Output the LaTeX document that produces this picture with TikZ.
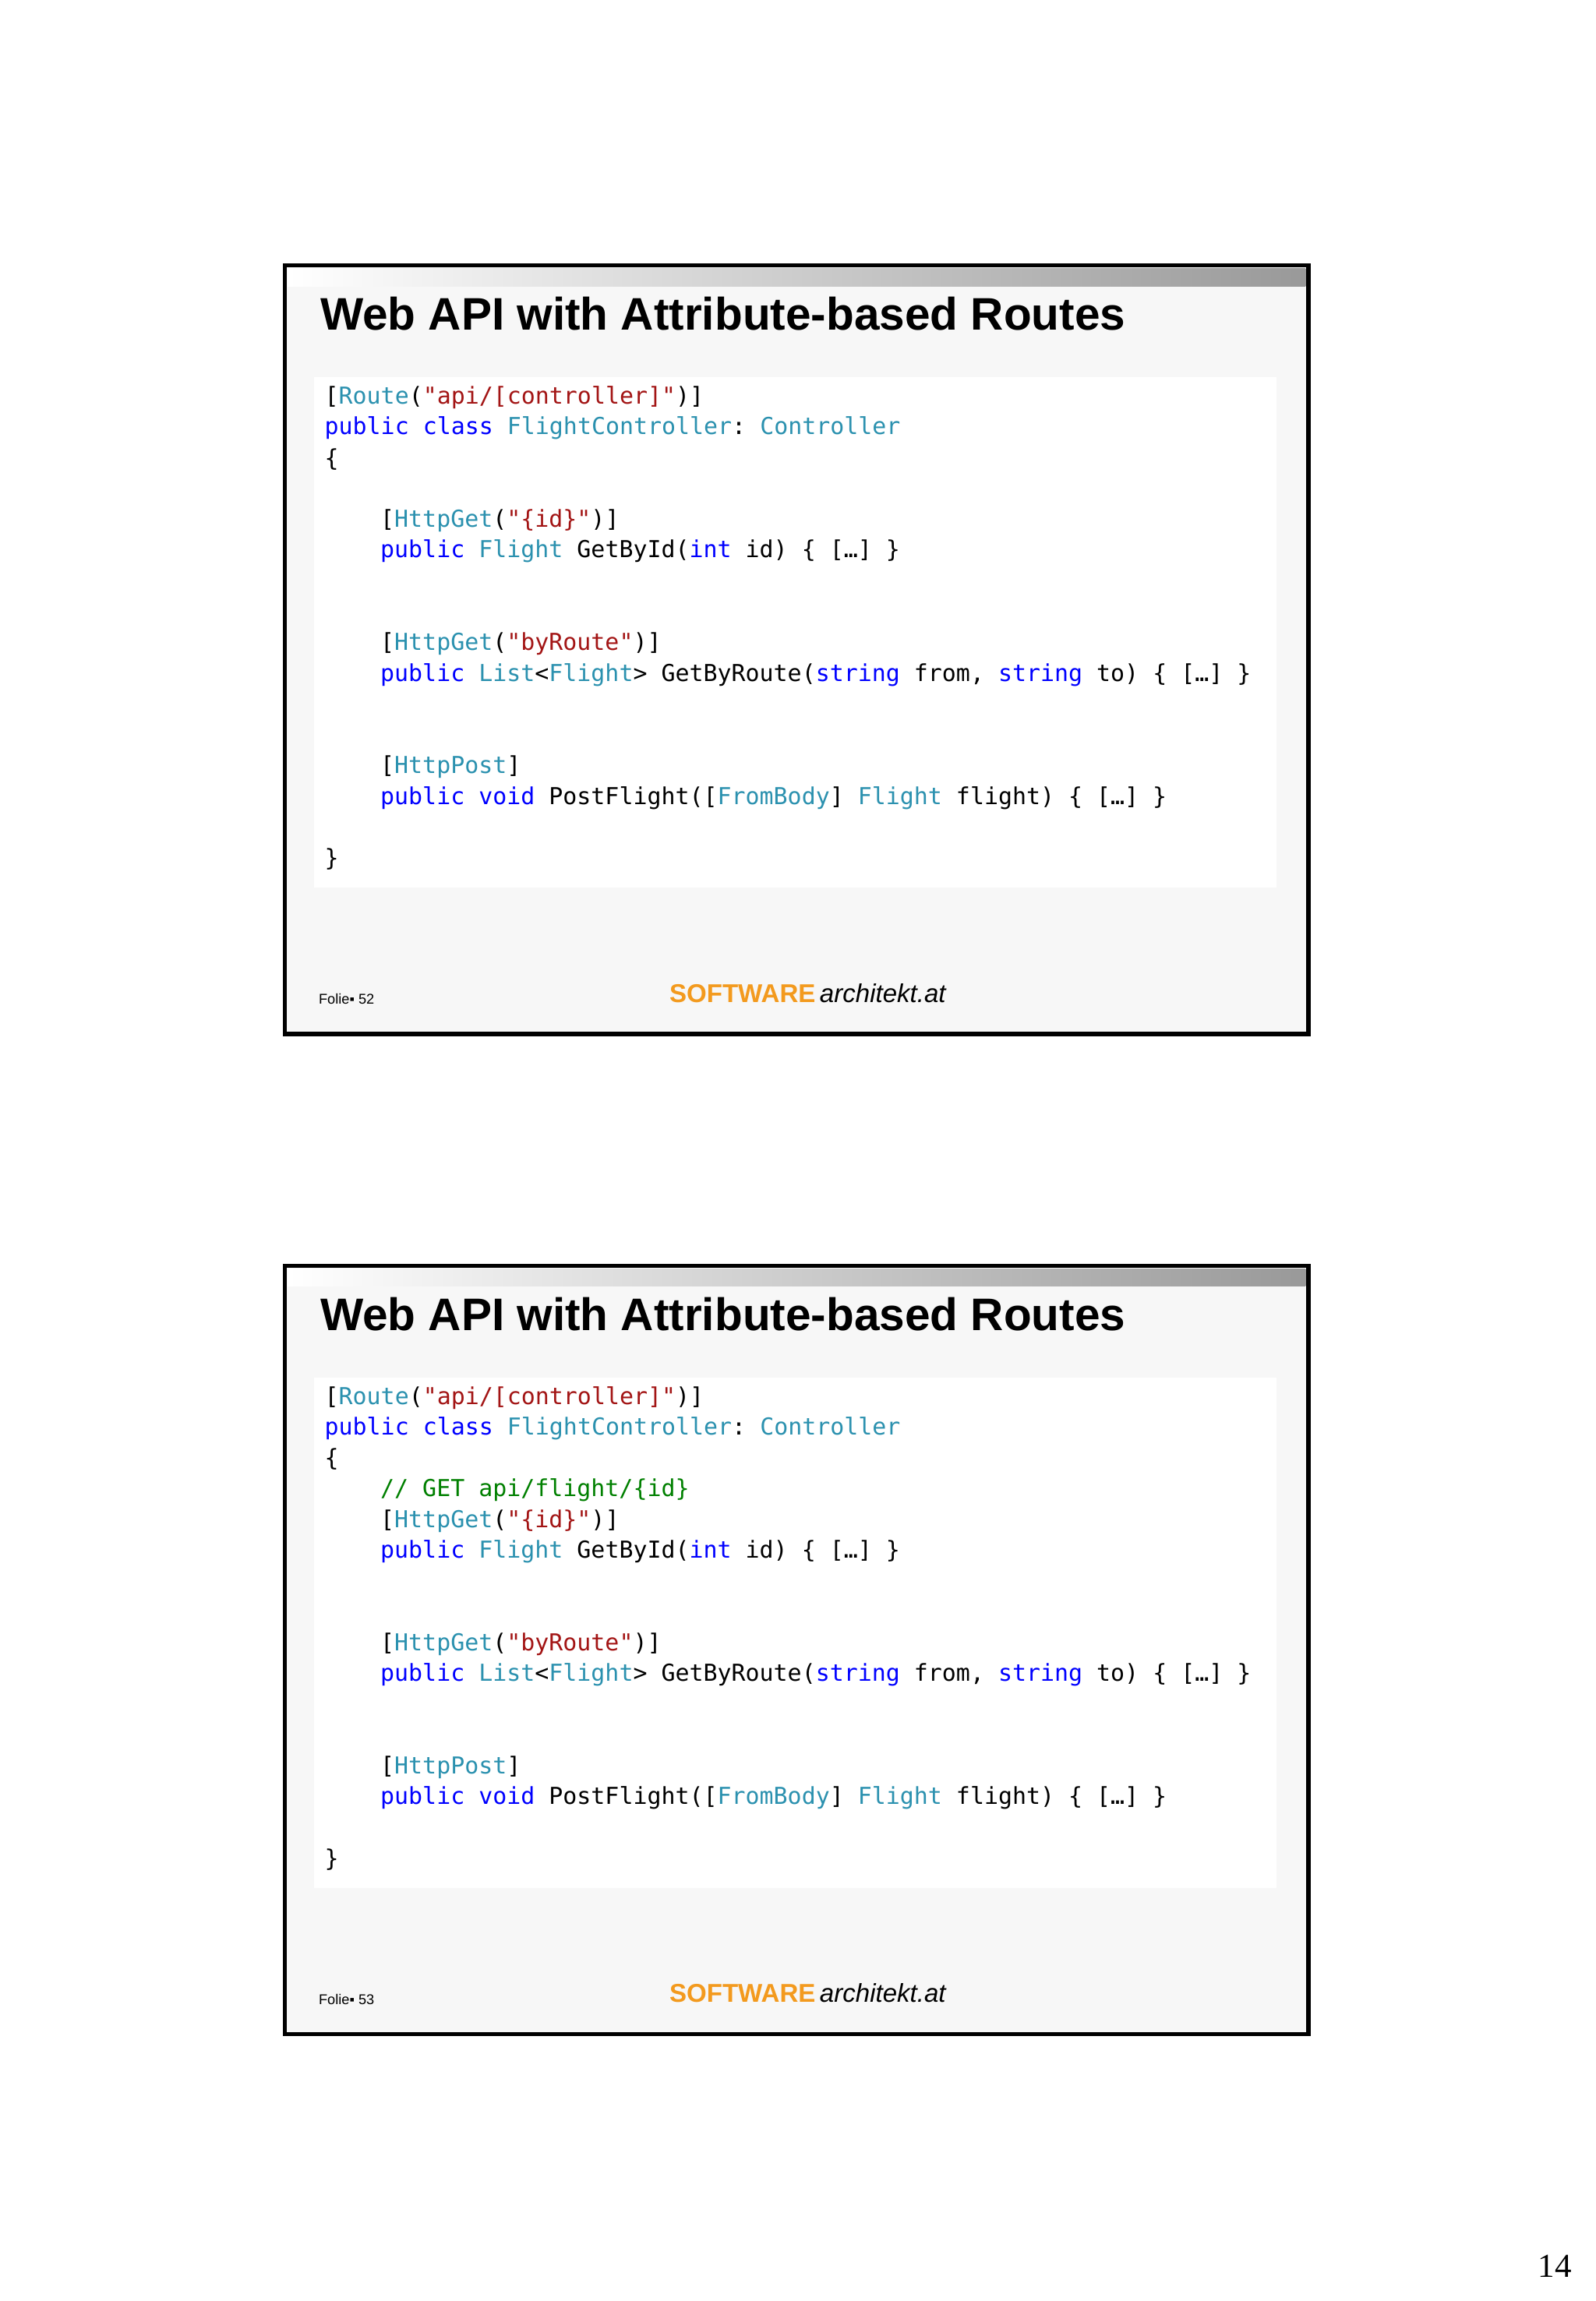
\documentclass[tikz,border=0pt]{standalone}
\usepackage{fontspec}
\setmainfont{Liberation Sans}
\setmonofont{DejaVu Sans Mono}
\newfontfamily\pagefont{Liberation Serif}
\definecolor{kw}{HTML}{0000FF}
\definecolor{ty}{HTML}{2B91AF}
\definecolor{st}{HTML}{A31515}
\definecolor{cm}{HTML}{008000}
\definecolor{og}{HTML}{F39A1E}
\definecolor{slidebg}{HTML}{F7F7F7}
\newcommand\K[1]{\textcolor{kw}{#1}}
\newcommand\T[1]{\textcolor{ty}{#1}}
\newcommand\St[1]{\textcolor{st}{#1}}
\newcommand\Cm[1]{\textcolor{cm}{#1}}
\tikzset{code/.style={anchor=west,inner sep=0pt,font=\ttfamily\fontsize{9.05}{11}\selectfont},
title/.style={anchor=west,inner sep=0pt,font=\bfseries\fontsize{17.7}{20}\selectfont}}
\newcommand\myslide[4]{%
\begin{scope}[shift={(0,#1)}]
\fill[slidebg] (194,181) rectangle (892,705);
\shade[left color=white,right color=gray!80] (196,183) rectangle (890,195);
\fill[white] (214,257) rectangle (870,605);
\draw[line width=1.6pt] (194,181) rectangle (892,705);
\node[title] (t#2) at (218,214) {Web API with Attribute-based Routes};
\node[code] (a#2) at (221,271) {[\T{Route}(\St{"api/[controller]"})]};
\node[code] (b#2) at (221,292) {\K{public} \K{class} \T{FlightController}: \T{Controller}};
\node[code] (c#2) at (221,313) {\{};
#4
\node[code] (e#2) at (259,355) {[\T{HttpGet}(\St{"\{id\}"})]};
\node[code] (f#2) at (259,376) {\K{public} \T{Flight} GetById(\K{int} id) \{ […] \}};
\node[code] (g#2) at (259,439) {[\T{HttpGet}(\St{"byRoute"})]};
\node[code] (h#2) at (259,460) {\K{public} \T{List}<\T{Flight}> GetByRoute(\K{string} from, \K{string} to) \{ […] \}};
\node[code] (i#2) at (259,523) {[\T{HttpPost}]};
\node[code] (j#2) at (259,544) {\K{public} \K{void} PostFlight([\T{FromBody}] \T{Flight} flight) \{ […] \}};
\node[code] (k#2) at (221,586) {\}};
\node[anchor=west,inner sep=0pt,font=\fontsize{5.5}{6}\selectfont] (l#2) at (217,681) {Folie▪ #3};
\node[anchor=west,inner sep=0pt,font=\fontsize{10}{12}\selectfont] (m#2) at (456,677) {\textcolor{og}{\bfseries SOFTWARE}\,\textit{architekt.at}};
\end{scope}}
\begin{document}
\begin{tikzpicture}[x=0.02cm,y=-0.02cm]
\useasboundingbox (0,0) rectangle (1088,1568.8);
\fill[white] (0,0) rectangle (1088,1568.8);
\myslide{0}{1}{52}{}
\myslide{682}{2}{53}{\node[code] (d2) at (259,334) {\Cm{// GET api/flight/\{id\}}};}
\node[font=\pagefont\fontsize{13}{15}\selectfont,inner sep=0pt] (pg) at (1060,1545) {14};
\end{tikzpicture}
\end{document}
